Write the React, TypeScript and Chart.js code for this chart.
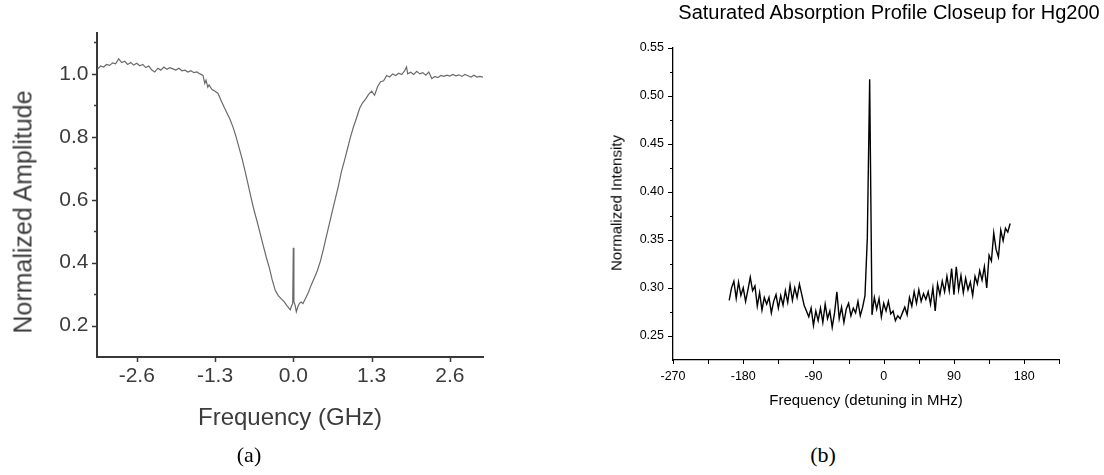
import React, { useEffect, useRef } from "react";
import { Chart, registerables } from "chart.js";

Chart.register(...registerables);

// ---------- Panel (a): Doppler-broadened profile ----------
const freqA = [
  -3.25, -3.2, -3.15, -3.1, -3.05, -3.0, -2.95, -2.9, -2.85, -2.8,
  -2.75, -2.7, -2.65, -2.6, -2.55, -2.5, -2.45, -2.4, -2.35, -2.3,
  -2.25, -2.2, -2.15, -2.1, -2.05, -2.0, -1.95, -1.9, -1.85, -1.8,
  -1.75, -1.7, -1.65, -1.6, -1.55, -1.5, -1.47, -1.45, -1.42, -1.4,
  -1.35, -1.3, -1.25, -1.22, -1.2, -1.15, -1.1, -1.05, -1.0, -0.95,
  -0.9, -0.85, -0.8, -0.75, -0.7, -0.65, -0.6, -0.55, -0.5, -0.45,
  -0.4, -0.35, -0.3, -0.25, -0.2, -0.15, -0.1, -0.05, -0.03, -0.01,
  0.0, 0.01, 0.03, 0.05, 0.08, 0.1, 0.13, 0.16, 0.2, 0.25,
  0.3, 0.35, 0.4, 0.45, 0.5, 0.55, 0.6, 0.65, 0.7, 0.75,
  0.8, 0.85, 0.9, 0.95, 1.0, 1.05, 1.1, 1.15, 1.2, 1.25,
  1.3, 1.35, 1.4, 1.45, 1.5, 1.55, 1.6, 1.65, 1.7, 1.75,
  1.8, 1.85, 1.88, 1.9, 1.95, 2.0, 2.05, 2.1, 2.15, 2.2,
  2.25, 2.3, 2.35, 2.4, 2.45, 2.5, 2.55, 2.6, 2.65, 2.7,
  2.75, 2.8, 2.85, 2.9, 2.95, 3.0, 3.05, 3.1, 3.15,
];
const ampA = [
  1.015, 1.025, 1.022, 1.03, 1.027, 1.035, 1.032, 1.048, 1.036, 1.04,
  1.03, 1.036, 1.028, 1.034, 1.026, 1.03, 1.02, 1.025, 1.012, 1.006,
  1.018, 1.012, 1.022, 1.015, 1.02, 1.016, 1.012, 1.018, 1.01, 1.012,
  1.006, 1.01, 1.004, 1.006, 1.0, 0.995, 0.97, 0.98, 0.958, 0.965,
  0.95, 0.945, 0.938, 0.925, 0.915, 0.895, 0.875, 0.855, 0.83, 0.8,
  0.765, 0.73, 0.69, 0.648, 0.605, 0.565, 0.53, 0.492, 0.455, 0.418,
  0.385, 0.345, 0.312, 0.295, 0.285, 0.275, 0.262, 0.25, 0.262, 0.27,
  0.447, 0.275, 0.265, 0.244, 0.262, 0.27, 0.275, 0.27, 0.285, 0.305,
  0.33, 0.352, 0.375, 0.405, 0.443, 0.484, 0.525, 0.565, 0.605, 0.645,
  0.69, 0.725, 0.762, 0.8, 0.832, 0.86, 0.89, 0.908, 0.92, 0.935,
  0.945, 0.932, 0.96, 0.975, 0.978, 0.995, 0.99, 1.0, 0.995, 1.002,
  0.998, 1.01, 1.022, 1.0, 1.005, 0.998, 1.008, 1.0, 1.004, 0.996,
  1.006, 0.985, 0.992, 0.988, 0.995, 0.992, 0.996, 0.993, 0.998, 0.994,
  0.997, 0.992, 0.998, 0.994, 0.99, 0.996, 0.99, 0.992, 0.99,
];
const xTicksA = [-2.6, -1.3, 0.0, 1.3, 2.6];
const yTicksA = [0.2, 0.4, 0.6, 0.8, 1.0];
const yMinorA = [0.3, 0.5, 0.7, 0.9, 1.1];

// ---------- Panel (b): saturated absorption closeup ----------
const DETUNE_START = -198;
const DETUNE_STEP = 3;
const intensityB = [
  0.287, 0.3, 0.307, 0.289, 0.306, 0.292, 0.3, 0.286, 0.298, 0.311,
  0.297, 0.302, 0.281, 0.295, 0.277, 0.29, 0.283, 0.29, 0.274, 0.286,
  0.293, 0.279, 0.292, 0.282, 0.297, 0.285, 0.303, 0.287, 0.3, 0.29,
  0.304, 0.293, 0.282, 0.276, 0.27, 0.279, 0.261, 0.276, 0.266, 0.279,
  0.264, 0.283, 0.268, 0.276, 0.259, 0.274, 0.296, 0.268, 0.28, 0.264,
  0.278, 0.284, 0.271, 0.279, 0.274, 0.286, 0.271, 0.28, 0.292, 0.352,
  0.517, 0.272, 0.29, 0.278, 0.289, 0.27, 0.284, 0.276, 0.286, 0.273,
  0.276, 0.266, 0.271, 0.268, 0.274, 0.28, 0.272, 0.29, 0.281, 0.296,
  0.284, 0.298, 0.286, 0.294, 0.288, 0.296, 0.283, 0.3, 0.276, 0.304,
  0.293, 0.307, 0.296, 0.312, 0.297, 0.32, 0.293, 0.322, 0.298, 0.313,
  0.295, 0.31, 0.298, 0.306, 0.292, 0.312, 0.304, 0.318, 0.308, 0.322,
  0.3, 0.334, 0.328, 0.357, 0.34, 0.332, 0.36, 0.349, 0.362, 0.358,
  0.367,
];
const xTicksB = [-270, -180, -90, 0, 90, 180];
const xMinorB = [-225, -135, -45, 45, 135, 225];
const yTicksB = [0.25, 0.3, 0.35, 0.4, 0.45, 0.5, 0.55];
const yMinorB = [0.275, 0.325, 0.375, 0.425, 0.475, 0.525];

const SANS = "'Liberation Sans', Arial, Helvetica, sans-serif";
const SERIF = "'Liberation Serif', 'Times New Roman', serif";

type TickSpec = {
  scale: string;
  values: number[];
  length: number;
  inward: boolean;
  color: string;
  width: number;
};

function makeTickPlugin(id: string, specs: TickSpec[]) {
  return {
    id,
    afterDraw(chart: any) {
      const ctx = chart.ctx;
      const area = chart.chartArea;
      ctx.save();
      for (const s of specs) {
        const sc = chart.scales[s.scale];
        ctx.strokeStyle = s.color;
        ctx.lineWidth = s.width;
        ctx.beginPath();
        for (const v of s.values) {
          const p = Math.round(sc.getPixelForValue(v)) + 0.5;
          if (sc.isHorizontal()) {
            const y0 = area.bottom;
            const y1 = s.inward ? y0 - s.length : y0 + s.length;
            ctx.moveTo(p, y0);
            ctx.lineTo(p, y1);
          } else {
            const x0 = area.left;
            const x1 = s.inward ? x0 + s.length : x0 - s.length;
            ctx.moveTo(x0, p);
            ctx.lineTo(x1, p);
          }
        }
        ctx.stroke();
      }
      ctx.restore();
    },
  };
}

const Txt = ({
  x,
  y,
  size,
  rot = false,
  color = "#000",
  family = SANS,
  children,
}: {
  x: number;
  y: number;
  size: number;
  rot?: boolean;
  color?: string;
  family?: string;
  children: React.ReactNode;
}) => (
  <div
    style={{
      position: "absolute",
      left: x,
      top: y,
      transform: `translate(-50%, -50%)${rot ? " rotate(-90deg)" : ""}`,
      fontSize: size,
      fontFamily: family,
      color,
      whiteSpace: "nowrap",
      lineHeight: 1,
    }}
  >
    {children}
  </div>
);

export default function App() {
  const refA = useRef<HTMLCanvasElement | null>(null);
  const refB = useRef<HTMLCanvasElement | null>(null);

  useEffect(() => {
    if (!refA.current || !refB.current) return;
    const greyText = "#3c3c3c";
    const greyAxis = "#383838";

    const chartA = new Chart(refA.current, {
      type: "line",
      data: {
        datasets: [
          {
            data: freqA.map((f, i) => ({ x: f, y: ampA[i] })),
            borderColor: "#6a6a6a",
            borderWidth: 1.2,
            pointRadius: 0,
            tension: 0,
            fill: false,
          },
        ],
      },
      options: {
        animation: false,
        responsive: false,
        events: [],
        layout: { padding: { left: 0, top: 33, right: 17, bottom: 0 } },
        plugins: {
          legend: { display: false },
          tooltip: { enabled: false },
          title: { display: false },
        },
        scales: {
          x: {
            type: "linear",
            min: -3.26,
            max: 3.15,
            offset: false,
            afterFit: (s: any) => {
              s.height = 83;
            },
            afterBuildTicks: (s: any) => {
              s.ticks = xTicksA.map((v) => ({ value: v }));
            },
            ticks: {
              autoSkip: false,
              maxRotation: 0,
              minRotation: 0,
              padding: 6.4,
              color: greyText,
              font: { family: SANS, size: 21 },
              callback: (v: any) => Number(v).toFixed(1),
            },
            grid: { display: false, drawTicks: false },
            border: { display: true, color: greyAxis, width: 2 },
          },
          y: {
            type: "linear",
            min: 0.1,
            max: 1.13,
            afterFit: (s: any) => {
              s.width = 97;
            },
            afterBuildTicks: (s: any) => {
              s.ticks = yTicksA.map((v) => ({ value: v }));
            },
            ticks: {
              autoSkip: false,
              padding: 8.5,
              color: greyText,
              font: { family: SANS, size: 21 },
              callback: (v: any) => Number(v).toFixed(1),
            },
            grid: { display: false, drawTicks: false },
            border: { display: true, color: greyAxis, width: 2 },
          },
        },
      },
      plugins: [
        makeTickPlugin("ticksA", [
          { scale: "x", values: xTicksA, length: 5, inward: false, color: greyAxis, width: 1.5 },
          { scale: "y", values: yTicksA, length: 5, inward: false, color: greyAxis, width: 1.5 },
          { scale: "y", values: yMinorA, length: 3, inward: false, color: greyAxis, width: 1.5 },
        ]),
      ],
    } as any);

    const chartB = new Chart(refB.current, {
      type: "line",
      data: {
        datasets: [
          {
            data: intensityB.map((v, i) => ({ x: DETUNE_START + i * DETUNE_STEP, y: v })),
            borderColor: "#000",
            borderWidth: 1.4,
            pointRadius: 0,
            tension: 0,
            fill: false,
          },
        ],
      },
      options: {
        animation: false,
        responsive: false,
        events: [],
        layout: { padding: { left: 0, top: 47.5, right: 44.7, bottom: 0 } },
        plugins: {
          legend: { display: false },
          tooltip: { enabled: false },
          title: { display: false },
        },
        scales: {
          x: {
            type: "linear",
            min: -270,
            max: 225,
            offset: false,
            afterFit: (s: any) => {
              s.height = 80;
            },
            afterBuildTicks: (s: any) => {
              s.ticks = xTicksB.map((v) => ({ value: v }));
            },
            ticks: {
              autoSkip: false,
              maxRotation: 0,
              minRotation: 0,
              padding: 9.5,
              color: "#000",
              font: { family: SANS, size: 12.5 },
              callback: (v: any) => String(v),
            },
            grid: { display: false, drawTicks: false },
            border: { display: true, color: "#000", width: 1.3 },
          },
          y: {
            type: "linear",
            min: 0.225,
            max: 0.55,
            afterFit: (s: any) => {
              s.width = 83;
            },
            afterBuildTicks: (s: any) => {
              s.ticks = yTicksB.map((v) => ({ value: v }));
            },
            ticks: {
              autoSkip: false,
              padding: 9,
              color: "#000",
              font: { family: SANS, size: 12.5 },
              callback: (v: any) => Number(v).toFixed(2),
            },
            grid: { display: false, drawTicks: false },
            border: { display: true, color: "#000", width: 1.3 },
          },
        },
      },
      plugins: [
        makeTickPlugin("ticksB", [
          { scale: "x", values: xTicksB, length: 4, inward: false, color: "#000", width: 1 },
          { scale: "x", values: xMinorB, length: 4, inward: false, color: "#000", width: 1 },
          { scale: "y", values: yTicksB, length: 5, inward: false, color: "#000", width: 1 },
          { scale: "y", values: yMinorB, length: 3, inward: false, color: "#000", width: 1 },
        ]),
      ],
    } as any);

    return () => {
      chartA.destroy();
      chartB.destroy();
    };
  }, []);

  return (
    <div
      style={{
        position: "absolute",
        left: 0,
        top: 0,
        width: 1104,
        height: 475,
        background: "#fff",
        overflow: "hidden",
      }}
    >
      <canvas
        ref={refA}
        width={500}
        height={440}
        style={{ position: "absolute", left: 0, top: 0, width: 500, height: 440 }}
      />
      <canvas
        ref={refB}
        width={514}
        height={440}
        style={{ position: "absolute", left: 590, top: 0, width: 514, height: 440 }}
      />
      <Txt x={22.5} y={212} size={25} rot color="#3c3c3c">
        Normalized Amplitude
      </Txt>
      <Txt x={290} y={417} size={24} color="#3c3c3c">
        Frequency (GHz)
      </Txt>
      <Txt x={249} y={455} size={22} family={SERIF}>
        (a)
      </Txt>
      <Txt x={889} y={12.4} size={20}>
        Saturated Absorption Profile Closeup for Hg200
      </Txt>
      <Txt x={866} y={399} size={15}>
        Frequency (detuning in MHz)
      </Txt>
      <Txt x={615.5} y={203} size={15} rot>
        Normalized Intensity
      </Txt>
      <Txt x={823} y={455} size={22} family={SERIF}>
        (b)
      </Txt>
    </div>
  );
}
